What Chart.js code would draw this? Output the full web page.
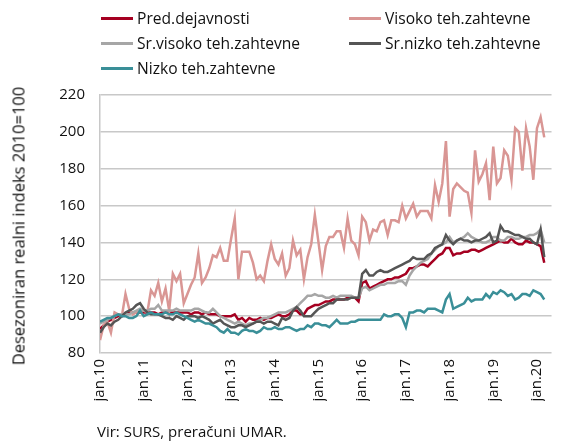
<!DOCTYPE html>
<html>
<head>
<meta charset="utf-8">
<script src="https://cdn.jsdelivr.net/npm/chart.js@4"></script>
<style>
body { margin: 0; background: #fff; font-family: "Open Sans", sans-serif; }
#wrap { position: relative; width: 561px; height: 441px; }
#legend { position: absolute; left: 0; top: 0; width: 561px; height: 90px; }
.item { position: absolute; font-size: 15.6px; color: #111; white-space: nowrap; line-height: 18px; }
.item span.sw { display: inline-block; width: 32px; height: 3px; vertical-align: middle; margin-right: 4px; position: relative; top: -1px; }
#ytitle { position: absolute; left: 18px; top: 226px; transform: translate(-50%, -50%) rotate(-90deg); font-size: 16.5px; color: #111; white-space: nowrap; }
#source { position: absolute; left: 97px; top: 421px; font-size: 15px; color: #111; }
</style>
</head>
<body>
<div id="wrap">
	<canvas id="myChart" width="561" height="441"></canvas>
	<div id="legend"></div>
	<div id="ytitle">Desezoniran realni indeks 2010=100</div>
	<div id="source">Vir: SURS, preračuni UMAR.</div>
</div>
<script>
// year tick labels (one per january, month index 0, 12, 24 ...)
var yearTicks = ["jan.10", "jan.11", "jan.12", "jan.13", "jan.14", "jan.15", "jan.16", "jan.17", "jan.18", "jan.19", "jan.20"];

var seriesNames = ["Pred.dejavnosti", "Visoko teh.zahtevne", "Sr.visoko teh.zahtevne", "Sr.nizko teh.zahtevne", "Nizko teh.zahtevne"];
var seriesColors = ["#a50021", "#d99694", "#a6a6a6", "#555555", "#3a8f98"];

// monthly values, jan.10 - mar.20
var predDejavnosti = [
	93, 95, 97, 98, 99, 100, 101, 101, 102, 102, 102, 102,
	102, 102, 102, 102, 101, 102, 102, 102, 102, 102, 102, 102,
	102, 101, 102, 102, 101, 102, 101, 101, 101, 100, 100, 100,
	100, 101, 98, 99, 97, 99, 98, 98, 99, 98, 99, 99,
	100, 101, 100, 100, 101, 103, 103, 101, 101, 104, 105, 106,
	106, 107, 108, 108, 109, 109, 109, 109, 110, 110, 110, 108,
	118, 119, 115, 116, 117, 118, 119, 120, 120, 121, 121, 122,
	123, 126, 126, 127, 128, 128, 127, 129, 131, 133, 134, 137,
	137, 133, 134, 134, 135, 135, 136, 136, 135, 136, 137, 138,
	139, 140, 141, 140, 140, 142, 140, 139, 139, 141, 140, 140,
	139, 138, 129
];
var visoko = [
	87, 95, 97, 91, 102, 101, 100, 112, 104, 101, 102, 103,
	103, 102, 114, 111, 118, 108, 115, 103, 123, 119, 123, 107,
	112, 117, 121, 134, 118, 121, 126, 133, 132, 137, 130, 130,
	142, 153, 120, 135, 135, 135, 129, 120, 122, 119, 130, 139,
	131, 128, 134, 122, 126, 141, 133, 136, 120, 132, 139, 155,
	140, 125, 138, 143, 143, 146, 146, 137, 153, 141, 139, 133,
	154, 151, 141, 147, 146, 151, 152, 144, 152, 152, 151, 160,
	153, 157, 161, 154, 157, 157, 157, 153, 171, 162, 172, 195,
	154, 169, 172, 170, 168, 167, 156, 190, 173, 177, 183, 163,
	192, 172, 175, 190, 187, 174, 202, 200, 179, 202, 192, 174,
	202, 208, 197
];
var srVisoko = [
	96, 97, 98, 99, 100, 101, 101, 101, 101, 102, 103, 104,
	103, 103, 104, 104, 106, 103, 103, 103, 103, 104, 103, 103,
	103, 103, 104, 104, 103, 102, 102, 104, 102, 100, 99, 98,
	97, 96, 97, 96, 95, 96, 96, 97, 98, 99, 99, 100,
	101, 102, 102, 102, 103, 104, 105, 107, 109, 111, 111, 112,
	111, 111, 110, 110, 111, 110, 111, 111, 111, 111, 110, 110,
	115, 116, 114, 115, 116, 117, 117, 118, 118, 118, 119, 119,
	117, 122, 125, 127, 129, 130, 131, 134, 136, 138, 139, 140,
	143, 140, 141, 142, 143, 145, 143, 142, 141, 140, 140, 141,
	143, 143, 141, 141, 143, 143, 142, 142, 143, 143, 144, 144,
	145, 147, 140
];
var srNizko = [
	91, 94, 96, 95, 97, 98, 100, 102, 103, 104, 106, 107,
	104, 102, 101, 101, 101, 100, 99, 99, 98, 100, 99, 98,
	100, 100, 100, 99, 100, 99, 98, 96, 97, 98, 96, 95,
	94, 94, 95, 95, 94, 95, 96, 97, 97, 96, 97, 97,
	96, 95, 99, 98, 99, 103, 105, 103, 100, 100, 100, 102,
	104, 105, 106, 107, 107, 109, 109, 109, 109, 110, 110, 110,
	123, 125, 122, 122, 124, 125, 124, 124, 125, 126, 127, 128,
	129, 130, 132, 131, 131, 131, 133, 134, 137, 138, 139, 144,
	141, 139, 141, 142, 141, 141, 140, 141, 141, 142, 143, 145,
	140, 141, 149, 146, 146, 145, 144, 144, 143, 142, 142, 140,
	139, 147, 132
];
var nizko = [
	97, 98, 99, 99, 100, 101, 100, 100, 99, 99, 100, 103,
	100, 101, 102, 101, 101, 101, 102, 101, 101, 102, 101, 100,
	99, 98, 97, 98, 97, 96, 96, 95, 94, 92, 91, 93,
	91, 91, 90, 92, 93, 92, 92, 91, 92, 94, 93, 93,
	94, 93, 93, 94, 94, 93, 92, 93, 93, 95, 94, 96,
	96, 95, 95, 94, 96, 98, 96, 96, 96, 97, 97, 98,
	98, 98, 98, 98, 98, 98, 101, 100, 100, 101, 101, 99,
	94, 102, 102, 103, 103, 102, 104, 104, 104, 103, 102, 109,
	112, 104, 105, 106, 107, 110, 108, 109, 109, 109, 112, 110,
	113, 112, 114, 113, 111, 112, 109, 110, 112, 112, 111, 114,
	113, 112, 109
];

var allSeries = [predDejavnosti, visoko, srVisoko, srNizko, nizko];

// legend (two columns, three rows)
var legendPos = [[101, 9], [349, 9], [101, 34], [349, 34], [101, 59]];
var legend = document.querySelector("#legend");
seriesNames.forEach(function (name, i) {
	var d = document.createElement("div");
	d.className = "item";
	d.style.left = legendPos[i][0] + "px";
	d.style.top = legendPos[i][1] + "px";
	d.innerHTML = '<span class="sw" style="background:' + seriesColors[i] + '"></span>' + name;
	legend.appendChild(d);
});

var datasets = allSeries.map(function (vals, i) {
	return {
		label: seriesNames[i],
		data: vals.map(function (v, m) { return { x: m, y: v }; }),
		borderColor: seriesColors[i],
		borderWidth: 2.5,
		pointRadius: 0,
		fill: false,
		order: 5 - i,
	};
});

var ctx = document.querySelector("#myChart").getContext("2d");
var myChart = new Chart(ctx, {
	type: "line",
	data: { datasets: datasets },
	options: {
		responsive: false,
		animation: false,
		layout: { padding: { top: 95, right: 1, bottom: 40, left: 0 } },
		plugins: { legend: { display: false }, tooltip: { enabled: false } },
		scales: {
			x: {
				type: "linear",
				min: 0,
				max: 124,
				grid: { display: false, drawTicks: false },
				border: { display: false },
				ticks: {
					stepSize: 12,
					autoSkip: false,
					includeBounds: false,
					maxRotation: 90,
					minRotation: 90,
					padding: 6,
					color: "#111",
					font: { family: "Open Sans", size: 15 },
					callback: function (v) {
						return v % 12 === 0 && yearTicks[v / 12] ? yearTicks[v / 12] : "";
					},
				},
				afterFit: function (s) { s.height = 48; },
			},
			y: {
				min: 80,
				max: 220,
				ticks: {
					stepSize: 20,
					padding: 15,
					color: "#111",
					font: { family: "Open Sans", size: 15 },
				},
				grid: { color: "#c8c8c8", lineWidth: 1.5, drawTicks: false },
				border: { color: "#c8c8c8", width: 1.5 },
				afterFit: function (s) { s.width = 100; },
			},
		},
	},
});
</script>
</body>
</html>
